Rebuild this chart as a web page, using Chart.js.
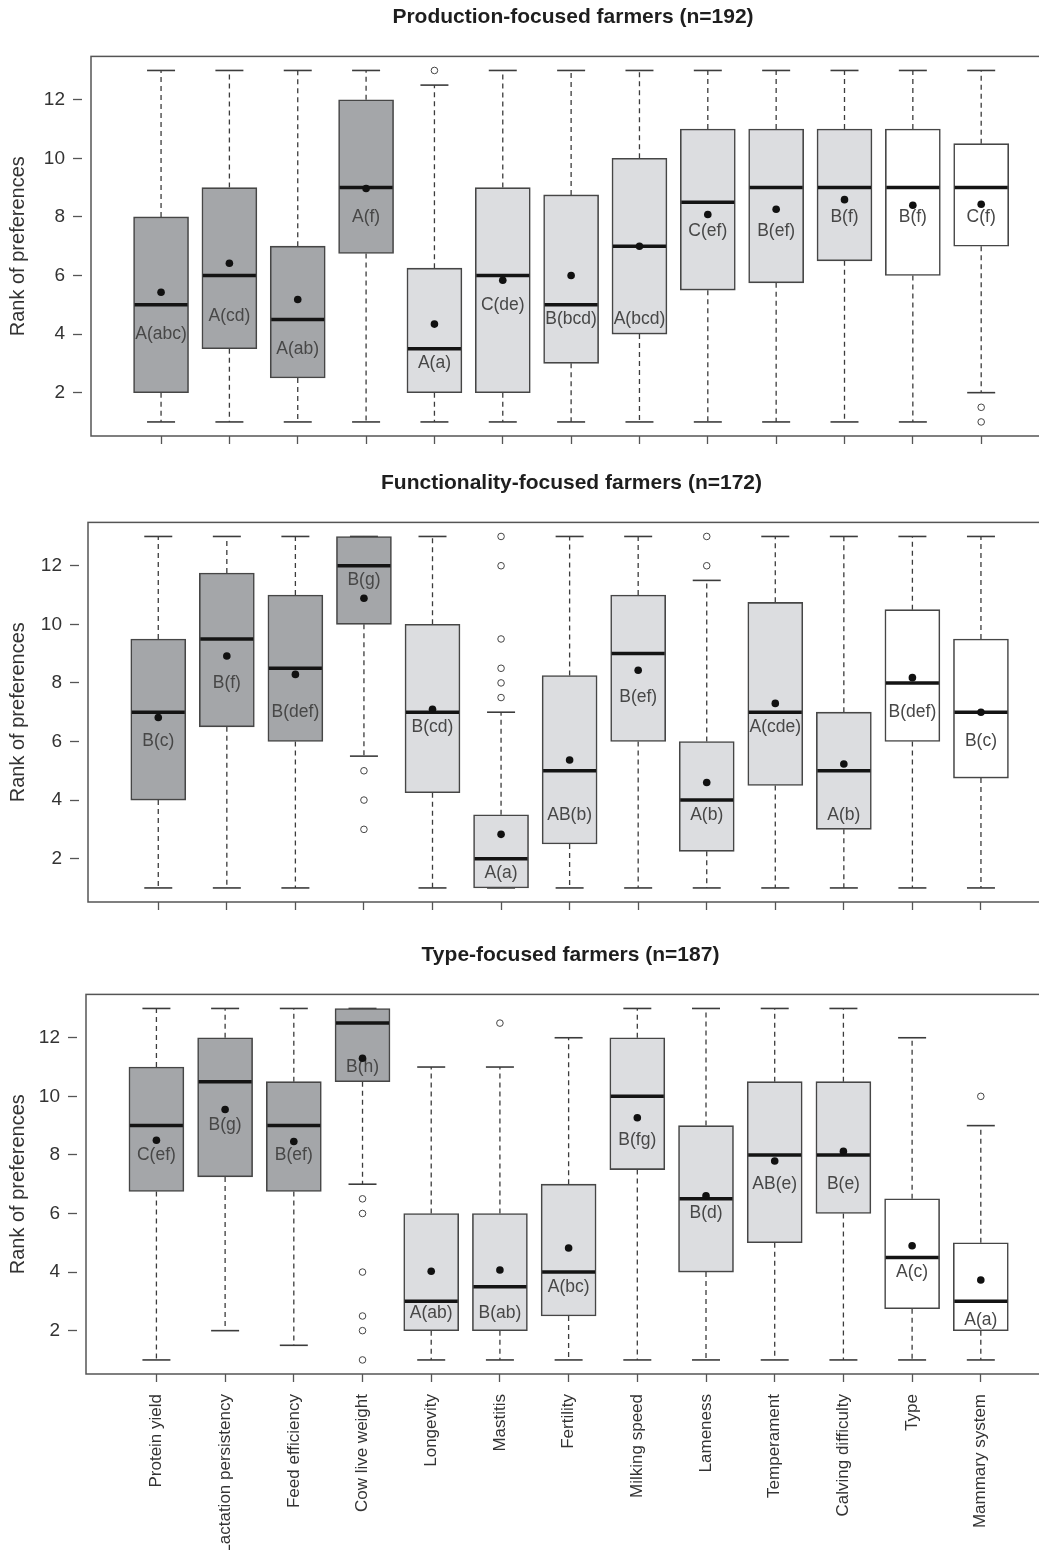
<!DOCTYPE html>
<html>
<head>
<meta charset="utf-8">
<script src="https://cdn.jsdelivr.net/npm/chart.js@4/dist/chart.umd.min.js"></script>
<style>
  body { margin: 0; background: #fff; overflow: hidden; width: 1039px; height: 1550px; position: relative; }
  canvas { position: absolute; left: 0; }
</style>
</head>
<body>
<canvas id="c1" width="1060" height="466" style="top:0px"></canvas>
<canvas id="c2" width="1060" height="466" style="top:466px"></canvas>
<canvas id="c3" width="1060" height="612" style="top:938px"></canvas>
<script>
const traits = ['Protein yield', 'Lactation persistency', 'Feed efficiency', 'Cow live weight', 'Longevity',
    'Mastitis', 'Fertility', 'Milking speed', 'Lameness', 'Temperament', 'Calving difficulty', 'Type', 'Mammary system'];
// 0 = production traits, 1 = functional traits, 2 = type traits
const traitGroup = [0, 0, 0, 0, 1, 1, 1, 1, 1, 1, 1, 2, 2];
const rankTicks = [2, 4, 6, 8, 10, 12];

// Production-focused farmers
const prodQ1 = [2, 3.5, 2.5, 6.75, 2, 2, 3, 4, 5.5, 5.75, 6.5, 6, 7];
const prodQ3 = [8, 9, 7, 12, 6.25, 9, 8.75, 10, 11, 11, 11, 11, 10.5];
const prodMedian = [5, 6, 4.5, 9, 3.5, 6, 5, 7, 8.5, 9, 9, 9, 9];
const prodMean = [5.43, 6.42, 5.18, 8.97, 4.34, 5.84, 6.0, 7.0, 8.08, 8.26, 8.59, 8.4, 8.43];
const prodLow = [1, 1, 1, 1, 1, 1, 1, 1, 1, 1, 1, 1, 2];
const prodHigh = [13, 13, 13, 13, 12.5, 13, 13, 13, 13, 13, 13, 13, 13];
const prodOutliers = [[5, 13], [13, 1.5], [13, 1]];
const prodLetters = ['A(abc)', 'A(cd)', 'A(ab)', 'A(f)', 'A(a)', 'C(de)', 'B(bcd)', 'A(bcd)', 'C(ef)', 'B(ef)', 'B(f)', 'B(f)', 'C(f)'];
const prodLetterY = [4.0, 4.6, 3.5, 8.0, 3.0, 5.0, 4.5, 4.5, 7.5, 7.5, 8.0, 8.0, 8.0];

// Functionality-focused farmers
const funcQ1 = [4, 6.5, 6, 10, 4.25, 1, 2.5, 6, 2.25, 4.5, 3, 6, 4.75];
const funcQ3 = [9.5, 11.75, 11, 13, 10, 3.5, 8.25, 11, 6, 10.75, 7, 10.5, 9.5];
const funcMedian = [7, 9.5, 8.5, 12, 7, 2, 5, 9, 4, 7, 5, 8, 7];
const funcMean = [6.82, 8.92, 8.29, 10.89, 7.1, 2.83, 5.37, 8.43, 4.6, 7.3, 5.23, 8.18, 7.0];
const funcLow = [1, 1, 1, 5.5, 1, 1, 1, 1, 1, 1, 1, 1, 1];
const funcHigh = [13, 13, 13, 13, 13, 7, 13, 13, 11.5, 13, 13, 13, 13];
const funcOutliers = [[4, 5], [4, 4], [4, 3], [6, 13], [6, 12], [6, 9.5], [6, 8.5], [6, 8], [6, 7.5], [9, 12], [9, 13]];
const funcLetters = ['B(c)', 'B(f)', 'B(def)', 'B(g)', 'B(cd)', 'A(a)', 'AB(b)', 'B(ef)', 'A(b)', 'A(cde)', 'A(b)', 'B(def)', 'B(c)'];
const funcLetterY = [6.0, 8.0, 7.0, 11.5, 6.5, 1.5, 3.5, 7.5, 3.5, 6.5, 3.5, 7.0, 6.0];

// Type-focused farmers
const typeQ1 = [6.75, 7.25, 6.75, 10.5, 2, 2, 2.5, 7.5, 4, 5, 6, 2.75, 2];
const typeQ3 = [11, 12, 10.5, 13, 6, 6, 7, 12, 9, 10.5, 10.5, 6.5, 5];
const typeMedian = [9, 10.5, 9, 12.5, 3, 3.5, 4, 10, 6.5, 8, 8, 4.5, 3];
const typeMean = [8.5, 9.55, 8.46, 11.3, 4.03, 4.07, 4.82, 9.27, 6.6, 7.79, 8.12, 4.9, 3.73];
const typeLow = [1, 2, 1.5, 7, 1, 1, 1, 1, 1, 1, 1, 1, 1];
const typeHigh = [13, 13, 13, 13, 11, 11, 12, 13, 13, 13, 13, 12, 9];
const typeOutliers = [[4, 6.5], [4, 6], [4, 4], [4, 2.5], [4, 2], [4, 1], [6, 12.5], [13, 10]];
const typeLetters = ['C(ef)', 'B(g)', 'B(ef)', 'B(h)', 'A(ab)', 'B(ab)', 'A(bc)', 'B(fg)', 'B(d)', 'AB(e)', 'B(e)', 'A(c)', 'A(a)'];
const typeLetterY = [8.0, 9.0, 8.0, 11.0, 2.6, 2.6, 3.5, 8.5, 6.0, 7.0, 7.0, 4.0, 2.35];

const groupFill = ['#a4a6a9', '#dcdde0', '#ffffff'];
const fontFamily = "'Liberation Sans', Arial, sans-serif";
Chart.defaults.font.family = fontFamily;

const panels = [
    { id: 'c1', title: 'Production-focused farmers (n=192)', q1: prodQ1, q3: prodQ3, median: prodMedian, mean: prodMean,
      low: prodLow, high: prodHigh, outliers: prodOutliers, letters: prodLetters, letterY: prodLetterY,
      leftWidth: 91, bottomHeight: 30, showLabels: false },
    { id: 'c2', title: 'Functionality-focused farmers (n=172)', q1: funcQ1, q3: funcQ3, median: funcMedian, mean: funcMean,
      low: funcLow, high: funcHigh, outliers: funcOutliers, letters: funcLetters, letterY: funcLetterY,
      leftWidth: 88, bottomHeight: 30, showLabels: false },
    { id: 'c3', title: 'Type-focused farmers (n=187)', q1: typeQ1, q3: typeQ3, median: typeMedian, mean: typeMean,
      low: typeLow, high: typeHigh, outliers: typeOutliers, letters: typeLetters, letterY: typeLetterY,
      leftWidth: 86, bottomHeight: 176, showLabels: true }
];

function line(ctx, x1, y1, x2, y2) {
    ctx.beginPath();
    ctx.moveTo(x1, y1);
    ctx.lineTo(x2, y2);
    ctx.stroke();
}

// whiskers, medians, letters and the frame, all placed through the chart scales
function boxPlugin(p) {
    return {
        id: 'boxPlot',
        beforeDatasetsDraw(chart) {
            const ctx = chart.ctx, xs = chart.scales.x, ys = chart.scales.y;
            ctx.save();
            ctx.strokeStyle = '#3c3c3c';
            p.q1.forEach((q, i) => {
                const px = xs.getPixelForValue(i + 1);
                const yHi = ys.getPixelForValue(p.high[i]);
                const yLo = ys.getPixelForValue(p.low[i]);
                ctx.setLineDash([5, 4]);
                ctx.lineWidth = 1.3;
                line(ctx, px, ys.getPixelForValue(p.q3[i]), px, yHi);
                line(ctx, px, ys.getPixelForValue(q), px, yLo);
                ctx.setLineDash([]);
                ctx.lineWidth = 1.6;
                line(ctx, px - 14, yHi, px + 14, yHi);
                line(ctx, px - 14, yLo, px + 14, yLo);
            });
            ctx.restore();
        },
        afterDatasetDraw(chart, args) {
            if (args.index !== 0) return;
            const ctx = chart.ctx, ys = chart.scales.y;
            const bars = chart.getDatasetMeta(0).data;
            ctx.save();
            ctx.strokeStyle = '#141414';
            ctx.lineWidth = 3.5;
            bars.forEach((bar, i) => {
                const ym = ys.getPixelForValue(p.median[i]);
                line(ctx, bar.x - bar.width / 2 + 1, ym, bar.x + bar.width / 2 - 1, ym);
            });
            ctx.font = '17.5px ' + fontFamily;
            ctx.fillStyle = '#474747';
            ctx.textAlign = 'center';
            ctx.textBaseline = 'middle';
            bars.forEach((bar, i) => {
                ctx.fillText(p.letters[i], bar.x, ys.getPixelForValue(p.letterY[i]));
            });
            ctx.restore();
        },
        afterDraw(chart) {
            const ctx = chart.ctx, a = chart.chartArea;
            ctx.save();
            ctx.strokeStyle = '#555';
            ctx.lineWidth = 1.5;
            ctx.strokeRect(a.left, a.top, a.right - a.left + 10, a.bottom - a.top);
            ctx.restore();
        }
    };
}

panels.forEach(p => {
    new Chart(document.getElementById(p.id), {
        type: 'bar',
        data: {
            datasets: [{
                type: 'bar',
                order: 3,
                data: p.q1.map((q, i) => ({ x: i + 1, y: [q, p.q3[i]] })),
                backgroundColor: traitGroup.map(g => groupFill[g]),
                borderColor: '#464646',
                borderWidth: 1.6,
                borderSkipped: false,
                barThickness: 55
            }, {
                type: 'scatter',
                order: 1,
                data: p.mean.map((m, i) => ({ x: i + 1, y: m })),
                pointRadius: 3.8,
                backgroundColor: '#111',
                borderWidth: 0
            }, {
                type: 'scatter',
                order: 2,
                data: p.outliers.map(o => ({ x: o[0], y: o[1] })),
                pointRadius: 3.3,
                backgroundColor: '#fff',
                borderColor: '#444',
                borderWidth: 1
            }]
        },
        options: {
            responsive: false,
            animation: false,
            events: [],
            layout: { padding: 0 },
            plugins: {
                legend: { display: false },
                tooltip: { enabled: false },
                title: {
                    display: true,
                    text: p.title,
                    fullSize: false,
                    color: '#1e1e1e',
                    font: { size: 21, weight: 'bold' },
                    padding: { top: 4.5, bottom: 26.7 }
                }
            },
            scales: {
                x: {
                    type: 'linear',
                    offset: false,
                    min: -0.025,
                    max: 14.08,
                    afterBuildTicks: s => { s.ticks = traits.map((t, i) => ({ value: i + 1 })); },
                    afterFit: s => { s.height = p.bottomHeight; },
                    grid: { offset: false, drawOnChartArea: false, tickLength: 8, tickColor: '#555', tickWidth: 1.3 },
                    border: { display: false },
                    ticks: {
                        display: p.showLabels,
                        autoSkip: false,
                        minRotation: 90,
                        maxRotation: 90,
                        padding: 12,
                        color: '#333',
                        font: { size: 17 },
                        callback: v => traits[v - 1]
                    }
                },
                y: {
                    min: 0.52,
                    max: 13.48,
                    afterBuildTicks: s => { s.ticks = rankTicks.map(v => ({ value: v })); },
                    afterFit: s => { s.width = p.leftWidth; },
                    grid: { drawOnChartArea: false, tickLength: 18, tickBorderDash: [9, 20], tickColor: '#555', tickWidth: 1.3 },
                    border: { display: false },
                    ticks: { color: '#333', font: { size: 19 }, padding: 8 },
                    title: {
                        display: true,
                        text: 'Rank of preferences',
                        color: '#333',
                        font: { size: 20 },
                        padding: { top: 6, bottom: 0 }
                    }
                }
            }
        },
        plugins: [boxPlugin(p)]
    });
});
</script>
</body>
</html>
